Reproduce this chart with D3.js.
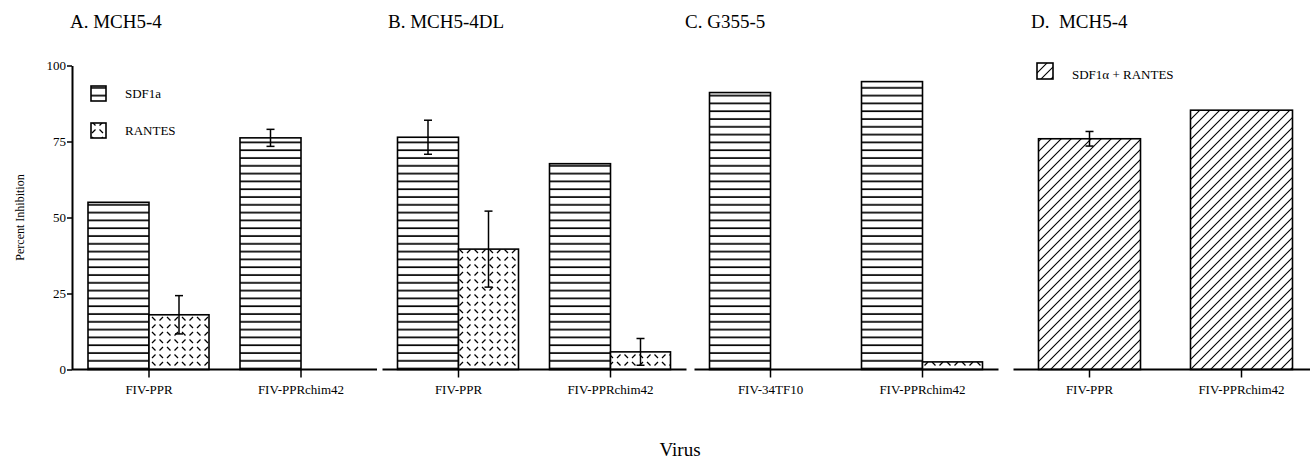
<!DOCTYPE html>
<html>
<head>
<meta charset="utf-8">
<script src="https://cdn.jsdelivr.net/npm/d3@7"></script>
<style>
  html, body { margin: 0; padding: 0; background: #fff; }
  svg { display: block; }
  text { font-family: "Liberation Serif", "DejaVu Serif", serif; fill: #000; }
</style>
</head>
<body>
<svg id="chart" width="1310" height="462"></svg>
<script>
// ---------- data ----------
const panelTitles = ["A. MCH5-4", "B. MCH5-4DL", "C. G355-5", "D.\u00a0 MCH5-4"];
const catsA = ["FIV-PPR", "FIV-PPRchim42"];
const catsB = ["FIV-PPR", "FIV-PPRchim42"];
const catsC = ["FIV-34TF10", "FIV-PPRchim42"];
const catsD = ["FIV-PPR", "FIV-PPRchim42"];

const sdfA = [55.0, 76.2];
const sdfErrA = [0, 2.8];
const rantesA = [18.0, 0];
const rantesErrA = [6.3, 0];

const sdfB = [76.4, 67.7];
const sdfErrB = [5.6, 0];
const rantesB = [39.6, 5.8];
const rantesErrB = [12.5, 4.4];

const sdfC = [91.1, 94.7];
const sdfErrC = [0, 0];
const rantesC = [0, 2.5];
const rantesErrC = [0, 0];

const comboD = [75.9, 85.3];
const comboErrD = [2.4, 0];

const yTicks = [0, 25, 50, 75, 100];
const legendAB = ["SDF1a", "RANTES"];
const legendD = ["SDF1\u03b1 + RANTES"];

// ---------- setup ----------
const W = 1310, H = 462;
const svg = d3.select("#chart");
const y = d3.scaleLinear().domain([0, 100]).range([369.5, 65.5]);

const defs = svg.append("defs");
// horizontal lines (SDF1a)
const pH = defs.append("pattern").attr("id", "pHoriz")
  .attr("patternUnits", "userSpaceOnUse").attr("width", 8).attr("height", 7.8)
  .attr("y", y(0));
pH.append("rect").attr("width", 8).attr("height", 7.8).attr("fill", "#fff");
pH.append("rect").attr("x", 0).attr("y", 6.1).attr("width", 8).attr("height", 1.7).attr("fill", "#000");

// dashed crosshatch (RANTES)
const pR = defs.append("pattern").attr("id", "pRantes")
  .attr("patternUnits", "userSpaceOnUse").attr("width", 15).attr("height", 15);
pR.append("rect").attr("width", 15).attr("height", 15).attr("fill", "#fff");
pR.append("path")
  .attr("d", "M2,2 L5.5,5.5 M9.5,9.5 L13,13 M9.5,5.5 L13,2 M2,13 L5.5,9.5")
  .attr("stroke", "#000").attr("stroke-width", 1.3).attr("fill", "none");

// diagonal hatch (SDF1a + RANTES)
const pD = defs.append("pattern").attr("id", "pDiag")
  .attr("patternUnits", "userSpaceOnUse").attr("width", 10).attr("height", 10);
pD.append("rect").attr("width", 10).attr("height", 10).attr("fill", "#fff");
pD.append("path")
  .attr("d", "M-1,1 L1,-1 M0,10 L10,0 M9,11 L11,9")
  .attr("stroke", "#000").attr("stroke-width", 1.1).attr("fill", "none");

// ---------- panels ----------
const panels = [
  { title: panelTitles[0], cats: catsA, range: [73, 377], titleX: 70,
    series: [ { vals: sdfA, errs: sdfErrA, fill: "url(#pHoriz)", off: -61, w: 61 },
              { vals: rantesA, errs: rantesErrA, fill: "url(#pRantes)", off: 0, w: 60 } ] },
  { title: panelTitles[1], cats: catsB, range: [382.5, 686.5], titleX: 388,
    series: [ { vals: sdfB, errs: sdfErrB, fill: "url(#pHoriz)", off: -61, w: 61 },
              { vals: rantesB, errs: rantesErrB, fill: "url(#pRantes)", off: 0, w: 60 } ] },
  { title: panelTitles[2], cats: catsC, range: [694.5, 998.5], titleX: 685,
    series: [ { vals: sdfC, errs: sdfErrC, fill: "url(#pHoriz)", off: -61, w: 61 },
              { vals: rantesC, errs: rantesErrC, fill: "url(#pRantes)", off: 0, w: 60 } ] },
  { title: panelTitles[3], cats: catsD, range: [1013.5, 1317.5], titleX: 1031,
    series: [ { vals: comboD, errs: comboErrD, fill: "url(#pDiag)", off: -51, w: 102 } ] }
];

panels.forEach((p, pi) => {
  const x = d3.scaleBand().domain(p.cats).range(p.range);
  const g = svg.append("g");
  const cx = c => x(c) + x.bandwidth() / 2;

  // title
  g.append("text").attr("x", p.titleX).attr("y", 28)
    .attr("font-size", 19).text(p.title);

  // bars
  p.series.forEach(s => {
    p.cats.forEach((c, i) => {
      const v = s.vals[i];
      if (v <= 0) return;
      g.append("rect")
        .attr("x", cx(c) + s.off).attr("y", y(v))
        .attr("width", s.w).attr("height", y(0) - y(v))
        .attr("fill", s.fill).attr("stroke", "#000").attr("stroke-width", 1.6);
    });
  });

  // error bars
  p.series.forEach(s => {
    p.cats.forEach((c, i) => {
      const e = s.errs[i], v = s.vals[i];
      if (!e) return;
      const ex = cx(c) + s.off + s.w / 2;
      const eg = g.append("g").attr("stroke", "#000").attr("stroke-width", 1.5);
      eg.append("line").attr("x1", ex).attr("x2", ex).attr("y1", y(v + e)).attr("y2", y(v - e));
      eg.append("line").attr("x1", ex - 4).attr("x2", ex + 4).attr("y1", y(v + e)).attr("y2", y(v + e));
      eg.append("line").attr("x1", ex - 4).attr("x2", ex + 4).attr("y1", y(v - e)).attr("y2", y(v - e));
    });
  });

  // baseline + ticks
  const base = p.range[0] - (pi === 0 ? 1 : 0);
  g.append("line")
    .attr("x1", base).attr("x2", Math.min(p.range[1], W))
    .attr("y1", y(0)).attr("y2", y(0))
    .attr("stroke", "#000").attr("stroke-width", 2);
  const xAxis = d3.axisBottom(x).tickSize(8).tickPadding(7.5).tickSizeOuter(0);
  const ax = g.append("g").attr("transform", `translate(0,${y(0)})`).call(xAxis);
  ax.select(".domain").remove();
  ax.selectAll(".tick line").attr("stroke", "#000").attr("stroke-width", 1.5);
  ax.selectAll(".tick text").attr("font-size", 13)
    .attr("font-family", "Liberation Serif, serif").attr("fill", "#000");
});

// y axis (panel A only)
const yAxis = d3.axisLeft(y).tickValues(yTicks).tickSize(5).tickPadding(1).tickSizeOuter(0);
const yg = svg.append("g").attr("transform", "translate(72,0)").call(yAxis);
yg.select(".domain").attr("stroke", "#000").attr("stroke-width", 2);
yg.selectAll(".tick line").attr("stroke", "#000").attr("stroke-width", 1.5);
yg.selectAll(".tick text").attr("font-size", 13)
  .attr("font-family", "Liberation Serif, serif").attr("fill", "#000");

svg.append("text")
  .attr("transform", `translate(24,${(y(0) + y(100)) / 2}) rotate(-90)`)
  .attr("text-anchor", "middle").attr("font-size", 12)
  .text("Percent Inhibition");

// legends
const legA = svg.append("g");
[ { label: legendAB[0], fill: "url(#pHoriz)", yy: 86 },
  { label: legendAB[1], fill: "url(#pRantes)", yy: 123 } ].forEach(l => {
  legA.append("rect").attr("x", 91).attr("y", l.yy).attr("width", 15).attr("height", 15)
    .attr("fill", l.fill).attr("stroke", "#000").attr("stroke-width", 1.6);
  legA.append("text").attr("x", 125).attr("y", l.yy + 12).attr("font-size", 13).text(l.label);
});
svg.append("rect").attr("x", 1037).attr("y", 63).attr("width", 16).attr("height", 16)
  .attr("fill", "url(#pDiag)").attr("stroke", "#000").attr("stroke-width", 1.6);
svg.append("text").attr("x", 1072).attr("y", 79).attr("font-size", 13).text(legendD[0]);

// x axis title
svg.append("text").attr("x", 680).attr("y", 456)
  .attr("text-anchor", "middle").attr("font-size", 19).text("Virus");
</script>
</body>
</html>
